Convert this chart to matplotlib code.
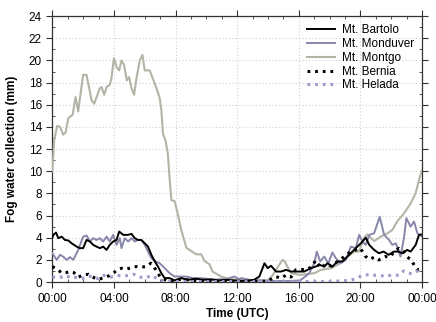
import numpy as np
import matplotlib.pyplot as plt
from matplotlib.ticker import MultipleLocator, FuncFormatter

plt.rcParams['font.family'] = ['Liberation Sans', 'DejaVu Sans']

# readings: (hour of day, mm)
bartolo_h = [0, 0.07, 0.24, 0.39, 0.61, 0.82, 1.04, 1.25, 1.58, 1.79, 2.0, 2.22, 2.44, 2.65, 2.87,
             3.09, 3.3, 3.52, 3.73, 3.95, 4.17, 4.34, 4.6, 4.92, 5.14, 5.35, 5.57, 5.78, 6.0, 6.21,
             6.43, 6.65, 6.86, 7.08, 7.29, 7.6, 7.94, 8.37, 8.8, 9.3, 9.8, 10.3, 10.8, 11.3, 11.8,
             12.3, 12.8, 13.1, 13.44, 13.77, 13.98, 14.2, 14.52, 14.85, 15.17, 15.5, 15.8, 16.03,
             16.35, 16.79, 17.1, 17.33, 17.66, 17.86, 18.18, 18.51, 18.83, 19.16, 19.48, 19.8,
             20.03, 20.35, 20.57, 20.89, 21.2, 21.5, 21.84, 22.17, 22.5, 22.7, 23.04, 23.26,
             23.59, 23.8, 24]
bartolo = [4.0, 4.26, 4.47, 3.96, 4.1, 3.8, 3.75, 3.5, 3.2, 3.06, 3.06, 3.8, 3.66, 3.36, 3.2,
           3.06, 3.2, 2.9, 3.36, 3.66, 3.8, 4.56, 4.26, 4.26, 4.35, 3.96, 3.8, 3.8, 3.5, 3.2,
           2.46, 1.86, 1.4, 0.8, 0.36, 0.36, 0.15, 0.36, 0.2, 0.3, 0.2, 0.25, 0.15, 0.2, 0.15,
           0.1, 0.15, 0.2, 0.5, 1.7, 1.26, 1.47, 0.95, 0.95, 1.1, 0.95, 0.95, 0.95,
           0.95, 1.26, 1.4, 1.56, 1.4, 1.7, 1.4, 1.86, 1.86, 2.3, 2.75, 3.2,
           3.5, 4.0, 3.36, 2.9, 2.6, 2.75, 2.46, 2.75, 2.75, 2.6, 2.9, 2.75,
           3.36, 4.26, 4.3]

monduver_h = [0, 0.07, 0.28, 0.5, 0.7, 0.93, 1.15, 1.36, 1.68, 2.0, 2.22, 2.44, 2.65, 2.87, 3.09,
              3.3, 3.52, 3.73, 3.95, 4.17, 4.38, 4.49, 4.7, 4.92, 5.14, 5.35, 5.57, 5.78, 6.0,
              6.21, 6.43, 6.71, 6.97, 7.29, 7.62, 7.94, 8.26, 8.7, 9.13, 9.55, 10.0, 10.4, 10.9,
              11.3, 11.8, 12.15, 12.26, 12.8, 13.5, 14.2, 14.9, 15.5, 16.1, 16.68, 17.0, 17.17,
              17.39, 17.64, 17.92, 18.18, 18.4, 18.7, 19.05, 19.38, 19.7, 19.92, 20.13, 20.35,
              20.57, 20.89, 21.25, 21.54, 21.86, 22.07, 22.3, 22.6, 22.83, 22.98, 23.26, 23.48,
              23.7, 24]
monduver = [2.6, 2.46, 2.0, 2.46, 2.3, 2.0, 2.25, 2.0, 2.9, 4.1, 4.2, 3.66, 3.96, 3.8, 3.96,
            3.66, 4.1, 3.66, 4.26, 3.36, 3.96, 3.06, 3.96, 3.66, 3.96, 3.66, 3.8, 3.8, 3.36,
            2.75, 2.16, 1.86, 1.7, 1.26, 0.8, 0.5, 0.5, 0.5, 0.36, 0.36, 0.3, 0.2, 0.25,
            0.27, 0.5, 0.27, 0.36, 0.2, 0.15, 0.1, 0.1, 0.1, 0.15, 0.8, 1.7, 2.75,
            1.86, 2.3, 1.7, 2.67, 2.16, 1.7, 2.0, 3.2, 3.06, 4.26, 3.66, 3.36,
            4.26, 4.4, 5.9, 4.26, 3.8, 3.36, 3.5, 2.3, 4.0, 5.77, 5.0, 5.46,
            4.4, 4.1]

montgo_h = [0, 0.12, 0.32, 0.5, 0.71, 0.86, 1.04, 1.32, 1.51, 1.68, 2.0, 2.22, 2.55, 2.72, 3.09,
            3.2, 3.37, 3.52, 3.73, 3.84, 4.0, 4.17, 4.34, 4.49, 4.66, 4.83, 4.98, 5.14, 5.31,
            5.46, 5.68, 5.85, 6.0, 6.32, 6.76, 6.97, 7.08, 7.18, 7.34, 7.5, 7.62, 7.73, 7.94,
            8.15, 8.37, 8.7, 9.02, 9.35, 9.67, 9.88, 10.2, 10.4, 10.96, 11.5, 12.15, 13.0,
            13.97, 14.3, 14.6, 14.95, 15.06, 15.5, 16.1, 17.0, 17.44, 18.1, 18.7, 19.16, 19.6,
            19.9, 20.24, 20.45, 20.89, 21.32, 21.75, 22.07, 22.4, 22.83, 23.26, 23.58, 23.8, 24]
montgo = [10.0, 12.8, 14.1, 14.0, 13.3, 13.5, 14.8, 15.1, 16.7, 15.4, 18.7, 18.7, 16.4, 16.1, 17.5,
          17.6, 16.9, 17.6, 17.8, 18.4, 20.2, 19.4, 19.1, 20.0, 19.6, 18.2, 18.5, 17.5, 16.9,
          18.4, 20.0, 20.5, 19.1, 19.1, 17.5, 16.6, 15.5, 13.4, 12.8, 11.6, 9.2, 7.4, 7.3,
          6.1, 4.7, 3.1, 2.8, 2.5, 2.5, 1.9, 1.6, 0.95, 0.5, 0.27, 0.2, 0.15,
          0.15, 0.6, 1.3, 2.0, 1.9, 0.8, 0.65, 0.8, 1.1, 1.26, 1.7, 2.3, 2.75,
          2.75, 4.0, 4.3, 3.7, 4.1, 4.4, 4.7, 5.5, 6.2, 7.1, 8.0, 9.2, 10.1]

bernia_h = [0, 0.3, 0.65, 0.9, 1.1, 1.4, 1.7, 2.0, 2.35, 2.7, 3.0, 3.35, 3.65, 4.0, 4.2, 4.5,
            4.8, 5.2, 5.5, 5.8, 6.1, 6.4, 6.6, 6.8, 7.0, 7.4, 7.8, 8.3, 8.8, 9.5, 10.5, 11.5,
            12.5, 13.5, 14.0, 14.5, 14.85, 15.2, 15.5, 15.8, 16.1, 16.5, 16.8, 17.1, 17.45,
            17.75, 18.1, 18.4, 18.7, 19.05, 19.4, 19.7, 20.0, 20.3, 20.6, 20.9, 21.2, 21.6,
            21.9, 22.2, 22.5, 22.8, 23.0, 23.3, 23.5, 23.7, 24]
bernia = [1.4, 1.15, 0.8, 0.85, 0.95, 0.85, 0.45, 0.65, 0.7, 0.4, 0.25, 0.4, 0.55, 0.85, 1.1, 1.25,
          1.15, 1.35, 1.4, 1.35, 1.4, 1.7, 1.35, 0.95, 0.45, 0.15, 0.05, 0.25, 0.2, 0.1, 0.05, 0.05,
          0.05, 0.05, 0.1, 0.5, 0.35, 0.65, 0.45, 1.1, 1.15, 1.1, 1.35, 1.95, 1.25,
          1.65, 1.45, 1.75, 2.0, 2.45, 2.75, 2.9, 3.05, 2.35, 2.05, 2.25, 2.0, 2.3,
          2.25, 2.75, 3.05, 2.75, 2.3, 2.0, 1.5, 1.1, 1.2]

helada_h = [0, 0.3, 0.6, 0.9, 1.15, 1.4, 1.9, 2.35, 2.7, 3.0, 3.35, 3.8, 4.2, 4.6, 5.0, 5.3,
            5.6, 6.1, 6.45, 6.8, 7.2, 8.0, 10.0, 12.0, 14.0, 16.0, 18.0, 19.3, 19.7, 20.1, 20.4,
            20.7, 21.0, 21.3, 21.6, 21.9, 22.2, 22.5, 22.8, 23.1, 23.4, 23.7, 24]
helada = [0.45, 0.4, 0.45, 0.6, 0.4, 0.45, 0.3, 0.55, 0.45, 0.3, 0.6, 0.45, 0.6, 0.55, 0.6, 0.7,
          0.45, 0.4, 0.6, 0.3, 0.1, 0.05, 0.05, 0.05, 0.05, 0.05, 0.05, 0.15, 0.3, 0.6, 0.65,
          0.7, 0.6, 0.6, 0.5, 0.6, 0.65, 0.6, 1.0, 0.8, 0.75, 1.0, 0.9]

fig = plt.figure(figsize=(4.36, 3.22), dpi=100)
ax = fig.add_axes([0.12, 0.124, 0.848, 0.826])

ax.plot(bartolo_h, bartolo, color='black', lw=1.4, label='Mt. Bartolo', zorder=5)
ax.plot(monduver_h, monduver, color='#8787aa', lw=1.4, label='Mt. Monduver', zorder=4)
ax.plot(montgo_h, montgo, color='#b4b4a6', lw=1.5, label='Mt. Montgo', zorder=3)
ax.plot(bernia_h, bernia, color='black', lw=2.2, ls=(0, (0.9, 1.6)), label='Mt. Bernia', zorder=6)
ax.plot(helada_h, helada, color='#9b9bcc', lw=2.2, ls=(0, (0.9, 1.6)), label='Mt. Helada', zorder=6)

ax.set_xlim(0, 24)
ax.set_ylim(0, 24)
ax.xaxis.set_major_locator(MultipleLocator(4))
ax.xaxis.set_minor_locator(MultipleLocator(1))
ax.yaxis.set_major_locator(MultipleLocator(2))
ax.yaxis.set_minor_locator(MultipleLocator(1))
ax.xaxis.set_major_formatter(FuncFormatter(lambda v, p: '%02d:00' % (int(v) % 24)))
ax.tick_params(which='both', top=True, right=True, labelsize=8.5, color='#333333')
ax.tick_params(which='major', direction='out', length=4)
ax.tick_params(which='minor', direction='in', length=2.5)
ax.tick_params(axis='x', which='major', pad=4)
ax.grid(True, which='major', ls=(0, (1, 2)), color='#d0d0d0', lw=0.8)
for s in ax.spines.values():
    s.set_color('#333333')
    s.set_linewidth(0.9)

ax.set_xlabel('Time (UTC)', fontsize=8.5, fontweight='bold', labelpad=2)
ax.set_ylabel('Fog water collection (mm)', fontsize=8.5, fontweight='bold', labelpad=8)

leg = ax.legend(loc='upper right', frameon=False, fontsize=8.5, handlelength=2.3,
                labelspacing=0.15, borderaxespad=0.3, handletextpad=0.6)

fig.savefig('out.png', dpi=100)
